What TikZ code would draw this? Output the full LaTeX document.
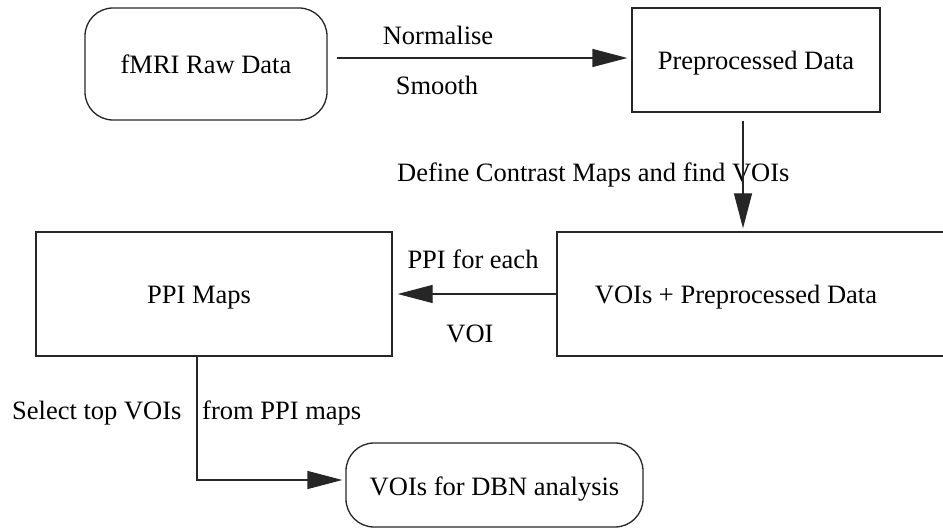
\documentclass[tikz,border=0pt]{standalone}
\usepackage{fontspec}
\setmainfont{Liberation Serif}
\usetikzlibrary{arrows.meta}
\tikzset{
  boxbase/.style={draw=black!85, line width=1.3pt, inner sep=0pt, text height=20pt, text depth=0pt, font=\fontsize{26.5}{30}\selectfont},
  sbox/.style={boxbase, rectangle},
  rbox/.style={boxbase, rectangle, rounded corners=28pt},
  lbl/.style={inner sep=0pt, font=\fontsize{26.5}{30}\selectfont},
  arr/.style={draw=black!85, line width=1.3pt, -{Triangle[length=35pt,width=18pt]}}
}
\begin{document}
\begin{tikzpicture}[x=1pt,y=-1pt]
\useasboundingbox (0,0) rectangle (943,529);
\node[rbox, minimum width=242pt, minimum height=112pt] (fmri) at (206,64) {fMRI Raw Data};
\node[sbox, minimum width=248pt, minimum height=104pt] (pre) at (756,60) {Preprocessed Data};
\node[sbox, minimum width=400pt, minimum height=124pt] (voi) at (757,294) {\hspace*{38pt}VOIs + Preprocessed Data\hspace*{80pt}};
\node[sbox, minimum width=356pt, minimum height=124pt] (ppi) at (214,294) {PPI Maps\hspace*{30pt}};
\node[rbox, minimum width=297pt, minimum height=84pt] (dbn) at (494.5,485) {VOIs for DBN analysis};

\node[lbl, anchor=base] (nrm) at (438,45) {Normalise};
\node[lbl, anchor=base] (smo) at (437,95) {Smooth};
\node[lbl, anchor=base west] (dcm) at (397,182) {Define Contrast Maps and find VOIs};
\node[lbl, anchor=base] (ppif) at (473,269) {PPI for each};
\node[lbl, anchor=base] (voil) at (470,343) {VOI};
\node[lbl, anchor=base west] (sel) at (12,420) {Select top VOIs};
\node[lbl, anchor=base west] (frm) at (202,420) {from PPI maps};

\draw[arr, shorten <=9pt, shorten >=4pt] ([yshift=6pt]fmri.east) -- ([yshift=6pt]fmri.east -| pre.west);
\draw[arr, shorten <=8pt, shorten >=3pt] ([xshift=-13pt]pre.south) -- ([xshift=-13pt]pre.south |- voi.north);
\draw[arr, shorten >=5pt] (voi.west) -- (voi.west -| ppi.east);
\draw[arr, shorten >=3pt] ([xshift=-17pt]ppi.south) |- ([yshift=5pt]dbn.west);
\end{tikzpicture}
\end{document}
